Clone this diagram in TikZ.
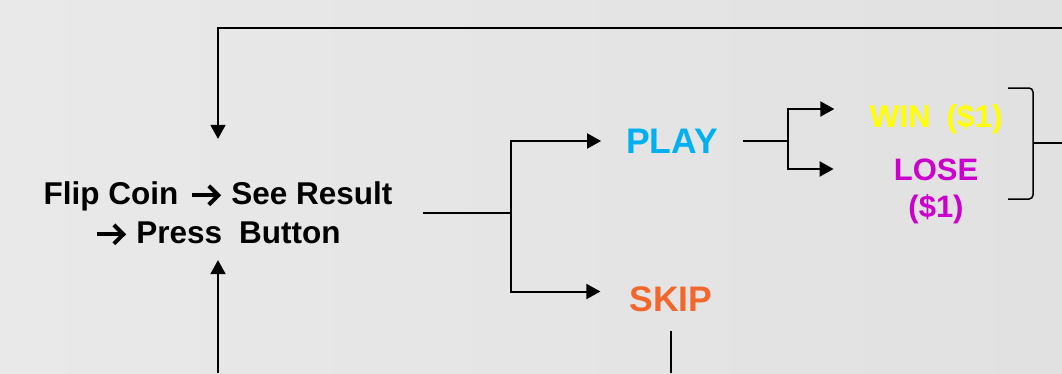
\documentclass[tikz,border=0pt]{standalone}
\usepackage{fontspec}
\setmainfont{Liberation Sans}
\usetikzlibrary{arrows.meta}
\definecolor{bgL}{RGB}{233,233,233}
\definecolor{bgR}{RGB}{225,225,225}
\definecolor{playc}{RGB}{0,176,240}
\definecolor{skipc}{RGB}{244,103,44}
\definecolor{winc}{RGB}{255,255,0}
\definecolor{losec}{RGB}{204,0,204}
\newcommand{\fatarr}{\tikz[baseline=0pt,x=1pt,y=1pt]{\draw[line width=4pt] (0,9.6) -- (26,9.6); \draw[line width=4pt, line join=miter] (16.5,19) -- (26,9.6) -- (16.5,0.2);}}
\begin{document}
\begin{tikzpicture}[x=1pt,y=-1pt,
  conn/.style={line width=2pt},
  thin conn/.style={line width=1.5pt},
  arr/.style={conn,-{Triangle[length=14pt,width=15pt]}},
  lbl/.style={inner sep=0pt, text depth=0pt}]
\useasboundingbox (0,0) rectangle (1062,373);
\shade[left color=bgL,right color=bgR] (0,0) rectangle (1062,373);

\node[lbl, align=center, inner xsep=30pt, font=\bfseries\fontsize{31.5}{39}\selectfont] (main) at (218,213)
  {Flip Coin\hspace{12pt}\fatarr\hspace{11pt}See Result\\\fatarr\hspace{11pt}Press\hspace{17pt}Button};
\node[lbl, text=playc, inner xsep=25pt, font=\bfseries\fontsize{35.5}{40}\selectfont] (play) at (672,141) {PLAY};
\node[lbl, text=skipc, inner xsep=29pt, inner ysep=19pt, font=\bfseries\fontsize{35.5}{40}\selectfont] (skip) at (671,299.5) {SKIP};
\node[lbl, text=winc, inner xsep=35pt, font=\bfseries\fontsize{31.5}{37}\selectfont] (win) at (936,116) {WIN\hspace{0.5em}(\$1)};
\node[lbl, text=losec, align=center, inner xsep=60pt, anchor=north, font=\bfseries\fontsize{31}{37}\selectfont] (lose) at (936,159) {LOSE\\(\$1)};

\coordinate (j1) at (511,213);
\coordinate (j2) at (788,141);
\coordinate (loopR) at (1062,28);
\coordinate (botL) at (218,373);
\coordinate (botS) at (671,373);
\coordinate (brT) at (1008,88);
\coordinate (brB) at (1008,199);
\coordinate (brM) at (1033,143);
\coordinate (outR) at (1062,143);

\draw[arr, thin conn, shorten >=43pt] (loopR) -| (main.north);
\draw[arr, shorten >=16pt] (botL) -- (main.south);
\draw[conn] (main.east) -- (j1);
\draw[arr] (j1) |- (play.west);
\draw[arr] (j1) |- ([yshift=8pt]skip.west);
\draw[thin conn] (skip.south) -- (botS);
\draw[conn] (play.east) -- (j2);
\draw[arr] (j2) |- ([yshift=7pt]win.west);
\draw[arr] (j2) |- ([yshift=-10pt]lose.north west);
\draw[thin conn, rounded corners=4pt] (brT) -- (brT -| brM) -- (brB -| brM) -- (brB);
\draw[thin conn] (brM) -- (outR);
\end{tikzpicture}
\end{document}
